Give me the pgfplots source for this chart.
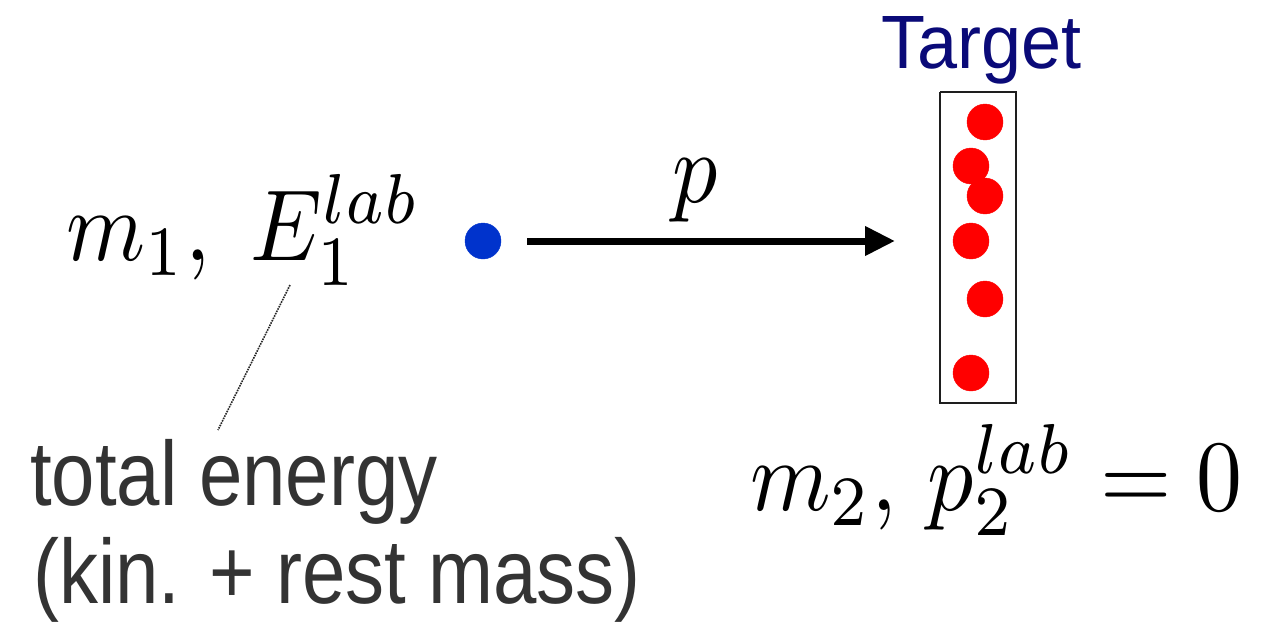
\documentclass[border=0pt]{standalone}
\usepackage{fontspec}
\setsansfont{Liberation Sans}
\usepackage{graphicx}
\usepackage{pgfplots}
\pgfplotsset{compat=1.18}
\usetikzlibrary{arrows.meta}
\definecolor{navy}{RGB}{10,10,120}
\definecolor{dotblue}{RGB}{0,51,204}
\definecolor{txtgray}{RGB}{51,51,51}
\begin{document}
\begin{tikzpicture}
\begin{axis}[
  width=1261pt, height=610pt, scale only axis,
  xmin=0, xmax=1261, ymin=0, ymax=610, y dir=reverse,
  hide axis, clip=false,
]
\addplot[draw=none, forget plot] coordinates {(0,0) (1261,610)};
\path (axis cs:0,0) rectangle (axis cs:1261,610);
% target box
\addplot[color={rgb,255:red,30;green,30;blue,30}, line width=2.2pt] coordinates {(940,92) (1016,92) (1016,403) (940,403) (940,92)};
% target particles
\addplot[only marks, mark=*, mark size=18pt, mark options={draw=red, fill=red}] coordinates {
(985,122) (971,166) (985,196) (971,241) (985,299) (971,373)};
% projectile
\addplot[only marks, mark=*, mark size=18pt, mark options={draw=dotblue, fill=dotblue}] coordinates {(483,241)};
% arrow
\addplot[black, line width=7pt, -{Triangle[length=30pt,width=28pt]}] coordinates {(527,241) (895,241)};
% dotted pointer line
\addplot[color={rgb,255:red,40;green,40;blue,40}, line width=1.6pt, densely dotted] coordinates {(290,285) (218,430)};
% texts
\node[anchor=base west, inner sep=0] at (axis cs:66,260) {\scalebox{9}[10.1]{$m_1,\; E_1^{lab}$}};
\node[anchor=base west, inner sep=0] at (axis cs:672,202) {\scalebox{9}[10.1]{$p$}};
\node[anchor=base west, inner sep=0] at (axis cs:750,510) {\scalebox{9.18}[10.1]{$m_2,\, p_2^{lab} = 0$}};
\node[anchor=base west, inner sep=0, text=navy] at (axis cs:881,68) {\scalebox{1}[1.05]{\fontsize{72}{80}\selectfont\sffamily Target}};
\node[anchor=base west, inner sep=0, text=txtgray] at (axis cs:30,505) {\scalebox{1}[1.17]{\fontsize{78}{80}\selectfont\sffamily total energy}};
\node[anchor=base west, inner sep=0, text=txtgray] at (axis cs:33,603) {\scalebox{1}[1.17]{\fontsize{78}{80}\selectfont\sffamily (kin. + rest mass)}};
\end{axis}
\end{tikzpicture}
\end{document}
